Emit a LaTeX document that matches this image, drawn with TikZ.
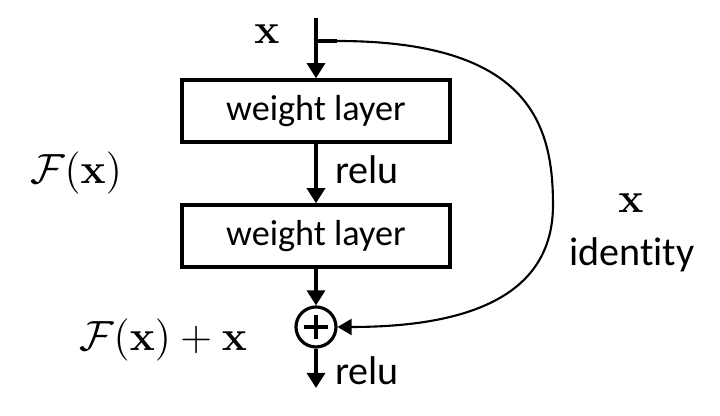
\documentclass[tikz,border=0pt]{standalone}
\usepackage[no-math]{fontspec}
\setmainfont[Ligatures=CommonOff]{Carlito}
\usetikzlibrary{arrows.meta}

\begin{document}
\begin{tikzpicture}[x=0.01cm,y=-0.01cm,
  layer/.style={draw,line width=1pt,minimum width=2.68cm,minimum height=0.62cm,inner sep=0pt,font=\fontsize{10.3}{12}\selectfont},
  flow/.style={line width=0.9pt,-{Triangle[length=1.5mm,width=1.8mm]}},
  skip/.style={line width=0.6pt,-{Triangle[length=1.4mm,width=1.6mm]}},
  lbl/.style={inner sep=0pt,font=\fontsize{11.4}{13}\selectfont},
  mathlbl/.style={inner sep=0pt,font=\fontsize{12.9}{15}\selectfont}]
\useasboundingbox (0,0) rectangle (720,416);
% the two layers and the sum
\node[layer] (w1) at (316,111) {weight layer};
\node[layer] (w2) at (316,236) {weight layer};
\node[draw,circle,line width=0.9pt,minimum size=0.4cm,inner sep=0pt] (sum) at (316,327) {};
\draw[line width=1.1pt] ([xshift=-0.12cm]sum.center) -- ([xshift=0.12cm]sum.center)
  ([yshift=-0.12cm]sum.center) -- ([yshift=0.12cm]sum.center);
\coordinate (in) at (316,18);
\coordinate (split) at (316,41);
\coordinate (tick) at (337,41);
\coordinate (out) at (316,388);
% main path
\draw[flow] (in) -- (w1.north);
\draw[flow] (w1.south) -- (w2.north);
\draw[flow] (w2.south) -- (sum.north);
\draw[flow] (sum.south) -- (out);
% identity shortcut
\draw[line width=0.9pt] (split) -- (tick);
\draw[skip] (tick) .. controls (530,41) and (553,125) .. (553,205)
  .. controls (553,295) and (470,327) .. (sum.east);
% labels
\node[mathlbl] (xin) at (267,34) {$\mathbf{x}$};
\node[mathlbl] (fx) at (76,173) {$\mathcal{F}(\mathbf{x})$};
\node[mathlbl] (fxx) at (163,340) {$\mathcal{F}(\mathbf{x})+\mathbf{x}$};
\node[mathlbl] (xid) at (631,203) {$\mathbf{x}$};
\node[lbl] (ident) at (632,255) {identity};
\node[lbl] (relu1) at (367,170) {relu};
\node[lbl] (relu2) at (367,371) {relu};
\end{tikzpicture}
\end{document}
